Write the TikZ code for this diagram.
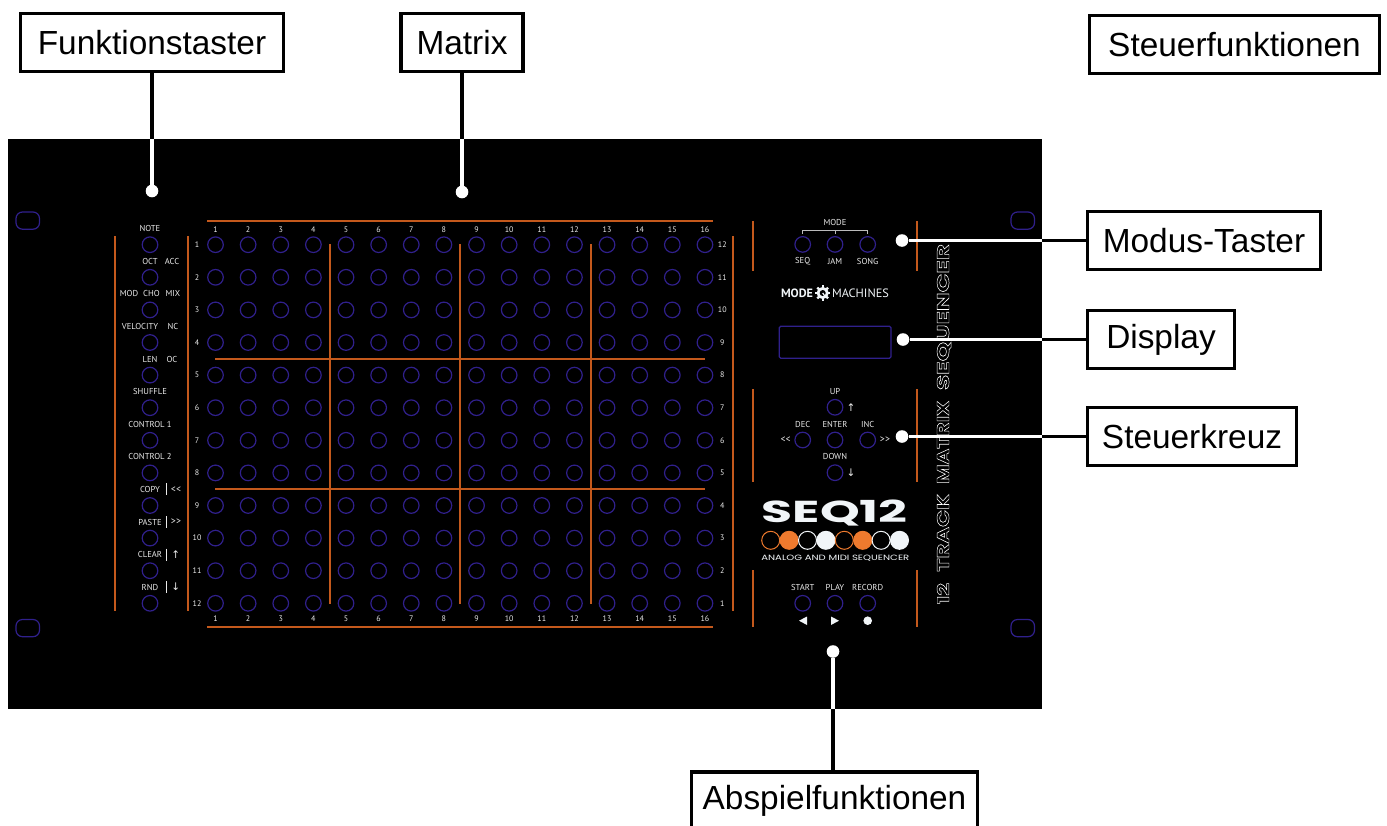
\documentclass[tikz,border=0pt]{standalone}
\usepackage{fontspec}
\usepackage{graphicx}
\setmainfont{Liberation Sans}
\newfontfamily\panelfont{PT Sans}
\newfontfamily\logofont{Poppins}
\newfontfamily\symfont{DejaVu Sans}
\definecolor{indigo}{HTML}{30208C}
\definecolor{rust}{HTML}{C4591C}
\definecolor{flame}{HTML}{EE7A2E}
\definecolor{ink}{HTML}{EAEAEA}
\definecolor{snow}{HTML}{F1F5F8}
\newcommand{\outlined}[1]{\special{pdf:code 1 Tr 0.28 w}#1\special{pdf:code 0 Tr}}
\newcommand{\titleword}[2]{\resizebox{#1pt}{12pt}{\logofont\bfseries\outlined{#2}}}
\tikzset{
  callout/.style={draw=black,line width=3.3pt,fill=white,inner sep=0pt,text=black,
    font=\fontsize{33.4}{40}\selectfont},
  btn/.style={circle,draw=indigo,line width=1.2pt,minimum size=15.6pt,inner sep=0pt},
  lbl/.style={text=ink,inner sep=0pt,font=\panelfont\fontsize{8.6}{10}\selectfont},
  num/.style={text=ink,inner sep=0pt,font=\panelfont\fontsize{8}{10}\selectfont},
  sym/.style={text=ink,inner sep=0pt,font=\symfont\fontsize{10.5}{12}\selectfont},
  dot/.style={circle,fill=white,minimum size=12.6pt,inner sep=0pt},
  rust line/.style={draw=rust,line width=1.25pt},
  hole/.style={draw=indigo,line width=1.2pt,rounded corners=6.5pt},
  wire/.style={draw=white,line width=3.4pt},
  lead/.style={draw=black,line width=3.6pt},
  logotext/.style={text=snow,inner sep=0pt},
}
\begin{document}
\begin{tikzpicture}[x=1pt,y=-1pt]
\useasboundingbox (0,0) rectangle (1387,825);
\clip (0,0) rectangle (1387,825);
\fill[white] (0,0) rectangle (1387,825);
% panel
\fill[black] (8,139) rectangle (1042,709);
\foreach \hx/\hy in {16/212,1011/212,16/619.5,1011/619.5}
  \draw[hole] (\hx,\hy) rectangle ++(23.5,17.2);
% orange rules
\foreach \lx in {115,188,733}
  \draw[rust line] (\lx,236) -- (\lx,611);
\foreach \ly in {221,627}
  \draw[rust line] (207,\ly) -- (713,\ly);
\foreach \ly in {359,489}
  \draw[rust line] (215,\ly) -- (705,\ly);
\foreach \lx in {330,460,591}
  \draw[rust line] (\lx,244) -- (\lx,603.5);
\foreach \lx in {753,917}{
  \draw[rust line] (\lx,221) -- (\lx,271);
  \draw[rust line] (\lx,389) -- (\lx,481.7);
  \draw[rust line] (\lx,570.3) -- (\lx,626.7);
}
% matrix buttons and numbers
\foreach \c in {1,...,16}{
  \pgfmathsetmacro{\cx}{215.5+32.63*(\c-1)}
  \node[num] (top\c) at (\cx,229.3) {\c};
  \node[num] (bot\c) at (\cx,619) {\c};
  \foreach \r in {1,...,12}{
    \pgfmathsetmacro{\ry}{244.7+32.6*(\r-1)}
    \node[btn] (m\c-\r) at (\cx,\ry) {};
  }
}
\foreach \r in {1,...,12}{
  \pgfmathsetmacro{\ry}{244.7+32.6*(\r-1)}
  \pgfmathtruncatemacro{\rr}{13-\r}
  \node[num] (rl\r) at (197,\ry) {\r};
  \node[num] (rr\r) at (722.3,\ry) {\rr};
  \node[btn] (f\r) at (150,\ry) {};
}
% function labels
\node[lbl] (tnote) at (150,228.3) {NOTE};
\node[lbl] (toct) at (150,261) {OCT};
\node[lbl] (tacc) at (172,261) {ACC};
\node[lbl] (tmod) at (129,293.7) {MOD};
\node[lbl] (tcho) at (151.5,293.7) {CHO};
\node[lbl] (tmix) at (173,293.7) {MIX};
\node[lbl] (tvel) at (140,326) {VELOCITY};
\node[lbl] (tnc) at (173,326) {NC};
\node[lbl] (tlen) at (150,359) {LEN};
\node[lbl] (toc) at (172,359) {OC};
\node[lbl] (tshu) at (150,391) {SHUFFLE};
\node[lbl] (tc1) at (150,424) {CONTROL 1};
\node[lbl] (tc2) at (150,456.7) {CONTROL 2};
\node[lbl] (tcopy) at (150,489.3) {COPY};
\node[lbl] (tpaste) at (150,522) {PASTE};
\node[lbl] (tclear) at (150,554.5) {CLEAR};
\node[lbl] (trnd) at (150,587) {RND};
\foreach \by in {489.3,522,554.5,587}
  \draw[draw=ink,line width=1pt] (166,\by-6) -- (166,\by+6);
\node[lbl,font=\panelfont\fontsize{10}{12}\selectfont] (tll) at (176,489.3) {<{}<};
\node[lbl,font=\panelfont\fontsize{10}{12}\selectfont] (tgg) at (176,522) {>{}>};
\node[sym] (tup) at (175.7,554.5) {↑};
\node[sym] (tdn) at (175.7,587) {↓};
% mode block
\node[lbl] (tmode) at (835,222.3) {MODE};
\draw[draw=ink!80!black,line width=1pt] (802.7,233.5) -- (802.7,230) -- (867.7,230) -- (867.7,233.5);
\draw[draw=ink!80!black,line width=1pt] (835,230) -- (835,233.5);
\node[btn] (bseq) at (802.7,244.4) {};
\node[btn] (bjam) at (835,244.4) {};
\node[btn] (bsong) at (867.7,244.4) {};
\node[lbl] (tseq) at (802.7,261) {SEQ};
\node[lbl] (tjam) at (835,261) {JAM};
\node[lbl] (tsong) at (867.7,261) {SONG};
% brand
\node[logotext] (brandA) at (797,293) {\resizebox{32pt}{8.6pt}{\panelfont\bfseries MODE}};
\node[logotext] (brandB) at (860.5,293) {\resizebox{57pt}{8.6pt}{\panelfont MACHINES}};
\begin{scope}[shift={(822.7,293)}]
  \foreach \a in {0,45,...,315}
    \draw[snow,line width=2.4pt] (\a:4) -- (\a:7.6);
  \fill[snow] (0,0) circle (5.8);
  \fill[black] (0,0) circle (3);
  \draw[snow,line width=1.2pt] (0,0) -- (55:4);
\end{scope}
% display
\node[draw=indigo,line width=1.2pt,rounded corners=1.5pt,minimum width=111.7pt,minimum height=32pt,inner sep=0pt] (disp) at (835.1,342.3) {};
% cross
\node[lbl] (tup2) at (835,391) {UP};
\node[btn] (bup) at (835,407.3) {};
\node[sym] (aup) at (851,407.3) {↑};
\node[lbl] (tdec) at (802.7,424) {DEC};
\node[lbl] (tent) at (835,424) {ENTER};
\node[lbl] (tinc) at (867.7,424) {INC};
\node[btn] (bdec) at (802.7,440) {};
\node[btn] (bent) at (835,440) {};
\node[btn] (binc) at (867.7,440) {};
\node[lbl,font=\panelfont\fontsize{10}{12}\selectfont] (tl2) at (785.7,440) {<{}<};
\node[lbl,font=\panelfont\fontsize{10}{12}\selectfont] (tg2) at (885,440) {>{}>};
\node[lbl] (tdown) at (835,456.7) {DOWN};
\node[btn] (bdown) at (835,472.7) {};
\node[sym] (adn) at (851,472.7) {↓};
% SEQ12 logo
\node[logotext] (seq) at (834.8,513) {\resizebox{146pt}{22.6pt}{\logofont\bfseries SEQ12}};
\foreach \i/\cc/\ff in {0/flame/none,1/flame/flame,2/snow/none,3/snow/snow,4/flame/none,5/flame/flame,6/snow/none,7/snow/snow}{
  \pgfmathsetmacro{\px}{770.7+18.4*\i}
  \draw[draw=\cc,fill=\ff,line width=1pt] (\px,540.3) circle (9);
}
\node[logotext] (ana) at (835.3,558.3) {\resizebox{148pt}{5.4pt}{\logofont ANALOG AND MIDI SEQUENCER}};
% transport
\node[lbl] (tstart) at (802.7,587) {START};
\node[lbl] (tplay) at (835,587) {PLAY};
\node[lbl] (trec) at (867.7,587) {RECORD};
\node[btn] (bstart) at (802.7,603.3) {};
\node[btn] (bplay) at (835,603.3) {};
\node[btn] (brec) at (867.7,603.3) {};
\fill[snow] (799,620.7) -- (807,616.5) -- (807,625) -- cycle;
\fill[snow] (839,620.7) -- (831,616.5) -- (831,625) -- cycle;
\fill[snow] (867.7,620.7) circle (4.3);
% vertical title
\node[rotate=90,text=white,inner sep=0pt] (title) at (944,424)
  {\titleword{21}{12}\hspace{11.3pt}\titleword{77.7}{TRACK}\hspace{10pt}\titleword{83.3}{MATRIX}\hspace{10.7pt}\titleword{146}{SEQUENCER}};
% callouts
\node[callout,minimum width=263pt,minimum height=58pt] (kf) at (152,42.5) {Funktionstaster};
\node[callout,minimum width=122pt,minimum height=58pt] (km) at (462,42.5) {Matrix};
\node[callout,minimum width=290pt,minimum height=58pt] (ks) at (1234.5,44.5) {Steuerfunktionen};
\node[callout,minimum width=233pt,minimum height=58pt] (kmt) at (1204,240.5) {Modus-Taster};
\node[callout,minimum width=147pt,minimum height=58pt] (kd) at (1161,339.5) {Display};
\node[callout,minimum width=209pt,minimum height=58pt] (kk) at (1192,436.5) {Steuerkreuz};
\node[callout,minimum width=286pt,minimum height=58pt] (ka) at (834.5,801) {Abspielfunktionen};
% dots and connectors
\node[dot] (df) at (152,191) {};
\node[dot] (dm) at (462,192) {};
\node[dot] (dmt) at (902,240.5) {};
\node[dot] (dd) at (903,339.5) {};
\node[dot] (dk) at (902,436.5) {};
\node[dot] (da) at (833,651.5) {};
\coordinate (ef) at (152,139);
\coordinate (em) at (462,139);
\coordinate (emt) at (1042,240.5);
\coordinate (ed) at (1042,339.5);
\coordinate (ek) at (1042,436.5);
\coordinate (ea) at (833,709);
\draw[lead] (kf.south -| ef) -- (ef);
\draw[lead] (km.south -| em) -- (em);
\draw[lead] (kmt.west) -- (emt);
\draw[lead] (kd.west) -- (ed);
\draw[lead] (kk.west) -- (ek);
\draw[lead] (ka.north -| ea) -- (ea);
\draw[wire] (ef) -- (df);
\draw[wire] (em) -- (dm);
\draw[wire] (emt) -- (dmt);
\draw[wire] (ed) -- (dd);
\draw[wire] (ek) -- (dk);
\draw[wire] (ea) -- (da);
\end{tikzpicture}
\end{document}
